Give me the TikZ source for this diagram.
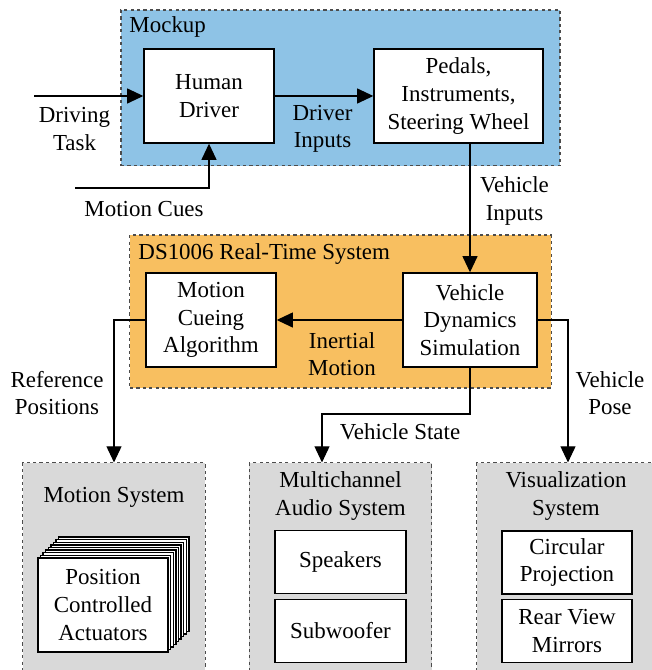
\documentclass[tikz,border=0pt]{standalone}
\usepackage{fontspec}
\setmainfont{Liberation Serif}
\usepackage{tikz}
\usetikzlibrary{arrows.meta,positioning,calc}

\definecolor{mockblue}{RGB}{142,195,230}
\definecolor{rtorange}{RGB}{248,191,96}
\definecolor{sysgray}{RGB}{217,217,217}

\begin{document}
\begin{tikzpicture}[
    x=0.436pt, y=-0.436pt,
    box/.style={rectangle, draw=black, line width=0.6pt, fill=white, align=center, inner sep=0pt, minimum width=56.7pt, minimum height=41pt},
    group/.style={rectangle, draw=black!70, line width=0.45pt, dash pattern=on 1.4pt off 1.4pt, inner sep=0pt},
    sysbox/.style={group, fill=sysgray, minimum width=79.4pt, minimum height=99pt},
    lbl/.style={align=center, inner sep=0pt},
    arrow/.style={-{Triangle[length=7pt,width=6.5pt]}, line width=0.5pt}
]
    \useasboundingbox (0,0) rectangle (652,670);
    \clip (0,0) rectangle (652,670);

    % Mockup
    \node[group, fill=mockblue, minimum width=191.4pt, minimum height=68pt] (mockup) at (340.5,88) {};
    \node[lbl, anchor=base west] (mocktitle) at (129,33) {Mockup};
    \node[box] (human) at (209,96) {Human\\Driver};
    \node[box, minimum width=73.7pt] (pedals) at (458.5,96) {Pedals,\\Instruments,\\Steering Wheel};

    % Real-time system
    \node[group, fill=rtorange, minimum width=183.6pt, minimum height=66.7pt] (rts) at (340.5,311.5) {};
    \node[lbl, anchor=base west] (rtstitle) at (138,259) {DS1006 Real-Time System};
    \node[box] (mca) at (211,320) {Motion\\Cueing\\Algorithm};
    \node[box, minimum width=58.4pt] (vdyn) at (470,320) {Vehicle\\Dynamics\\Simulation};

    % Motion system
    \node[sysbox] (motion) at (114,576.5) {};
    \node[lbl] (motiontitle) at (114,497) {Motion System};
    \foreach \k in {8,7,...,1}
        \node[box] (act\k) at (103+2.6*\k,605-2.6*\k) {};
    \node[box] (actuators) at (103,605) {Position\\Controlled\\Actuators};

    % Audio system
    \node[sysbox] (audio) at (340.5,576.5) {};
    \node[lbl] (audiotitle) at (340.5,496) {Multichannel\\Audio System};
    \node[box, minimum width=57.1pt, minimum height=27.5pt] (speakers) at (340.5,562) {Speakers};
    \node[box, minimum width=57.1pt, minimum height=27.5pt] (subwoofer) at (340.5,631) {Subwoofer};

    % Visualization system
    \node[sysbox] (visual) at (568,576.5) {};
    \node[lbl] (visualtitle) at (566,496) {Visualization\\System};
    \node[box, minimum height=27.5pt] (projection) at (567,562.5) {Circular\\Projection};
    \node[box, minimum height=27.5pt] (mirrors) at (567,631) {Rear View\\Mirrors};

    % Inputs
    \coordinate (taskin) at (34,96);
    \coordinate (cuesin) at (75,188);
    \coordinate (statebend) at (322,414);

    % Arrows
    \draw[arrow] (taskin) -- (human);
    \draw[arrow] (cuesin) -| (human.south);
    \draw[arrow] (human) -- (pedals);
    \draw[arrow] (pedals.south -| vdyn.north) -- (vdyn.north);
    \draw[arrow] (vdyn) -- (mca);
    \draw[arrow] (mca.west) -| (motion.north);
    \draw[arrow] (vdyn.south) |- (statebend) -- (statebend |- audio.north);
    \draw[arrow] (vdyn.east) -| (visual.north);

    % Labels
    \node[lbl] (tasklbl) at (74.5,129) {Driving\\Task};
    \node[lbl] (inputslbl) at (322.5,129) {Driver\\Inputs};
    \node[lbl] (cueslbl) at (144,209) {Motion Cues};
    \node[lbl] (vinputslbl) at (514.5,201) {Vehicle\\Inputs};
    \node[lbl] (inertiallbl) at (342,354) {Inertial\\Motion};
    \node[lbl] (reflbl) at (57,393) {Reference\\Positions};
    \node[lbl] (statelbl) at (400,432) {Vehicle State};
    \node[lbl] (poselbl) at (610,393) {Vehicle\\Pose};
\end{tikzpicture}
\end{document}
